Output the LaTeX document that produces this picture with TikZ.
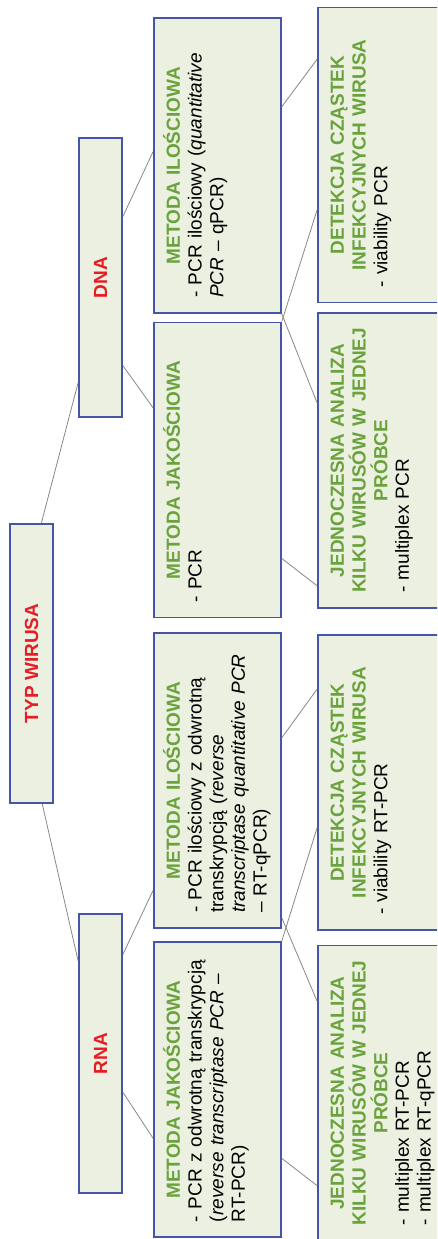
\documentclass[tikz,border=0pt]{standalone}
\usepackage{fontspec}
\setmainfont{Liberation Sans}
\usetikzlibrary{calc}

\definecolor{boxfill}{RGB}{235,240,225}
\definecolor{boxline}{RGB}{70,85,165}
\definecolor{headgreen}{RGB}{106,162,60}
\definecolor{headred}{RGB}{228,30,36}
\definecolor{linkgray}{RGB}{135,135,135}

\newcommand{\boxhead}[1]{{\centering\color{headgreen}\bfseries #1\par}}

\begin{document}
\begin{tikzpicture}[
        x=1pt, y=1pt, rotate=90, transform shape,
        box/.style={rectangle, draw=boxline, fill=boxfill, line width=1.8pt},
        kind/.style={box, minimum width=279pt, minimum height=43pt, inner sep=0pt, text=headred, font=\fontsize{19}{21.7}\selectfont\bfseries},
        method/.style={box, anchor=north, inner xsep=15pt, inner ysep=0pt, text width=265pt, align=left, text height=26pt, text depth=101pt, font=\fontsize{19}{21.7}\selectfont},
        detail/.style={method, text depth=220pt},
        link/.style={draw=linkgray, line width=0.8pt},
        ]

        \useasboundingbox (0,0) rectangle (1239,437);
        \clip (0,0) rectangle (1239,437);

        % Nodes
        \node[kind] (typ) at (575.5,405.5) {TYP WIRUSA};
        \node[kind] (dna) at (961.5,336.5) {DNA};
        \node[kind] (rna) at (185.5,336.5) {RNA};

        \node[method] (mjRNA) at (149.5,284) {\boxhead{METODA JAKOŚCIOWA}- PCR z odwrotną transkrypcją\\ (\textit{reverse transcriptase PCR} –\\ RT-PCR)};
        \node[method] (miRNA) at (458.5,284) {\boxhead{METODA ILOŚCIOWA}- PCR ilościowy z odwrotną\\ transkrypcją (\textit{reverse}\\ \textit{transcriptase quantitative PCR}\\ – RT-qPCR)};
        \node[method] (mjDNA) at (769,284) {\boxhead{METODA JAKOŚCIOWA}- PCR};
        \node[method] (miDNA) at (1073.5,284) {\boxhead{METODA ILOŚCIOWA}- PCR ilościowy (\textit{quantitative}\\ \textit{PCR} – qPCR)};

        \node[detail] (jednRNA) at (146,120) {\boxhead{JEDNOCZESNA ANALIZA\\ KILKU WIRUSÓW W JEDNEJ\\ PRÓBCE}- multiplex RT-PCR\\ - multiplex RT-qPCR};
        \node[detail] (detRNA) at (456.5,120) {\boxhead{DETEKCJA CZĄSTEK\\ INFEKCYJNYCH WIRUSA}- viability RT-PCR};
        \node[detail] (jednDNA) at (778.5,120) {\boxhead{JEDNOCZESNA ANALIZA\\ KILKU WIRUSÓW W JEDNEJ\\ PRÓBCE}- multiplex PCR};
        \node[detail] (detDNA) at (1084,120) {\boxhead{DETEKCJA CZĄSTEK\\ INFEKCYJNYCH WIRUSA}- viability PCR};

        % Connections
        \draw[link] ($(typ.south east)!0.28!(typ.north east)$) -- ($(dna.north west)!0.125!(dna.north east)$);
        \draw[link] ($(typ.south west)!0.26!(typ.north west)$) -- ($(rna.north west)!0.83!(rna.north east)$);
        \draw[link] ($(dna.south west)!0.717!(dna.south east)$) -- ($(miDNA.north west)!0.546!(miDNA.north east)$);
        \draw[link] ($(dna.south west)!0.186!(dna.south east)$) -- ($(mjDNA.north west)!0.71!(mjDNA.north east)$);
        \draw[link] ($(rna.south west)!0.853!(rna.south east)$) -- ($(miRNA.north west)!0.129!(miRNA.north east)$);
        \draw[link] ($(rna.south west)!0.362!(rna.south east)$) -- ($(mjRNA.north west)!0.336!(mjRNA.north east)$);
        \draw[link] ($(miDNA.south west)!0.698!(miDNA.south east)$) -- ($(detDNA.north west)!0.822!(detDNA.north east)$);
        \draw[link] (miDNA.south west) -- ($(jednDNA.north west)!0.695!(jednDNA.north east)$);
        \draw[link] (mjDNA.south east) -- ($(detDNA.north west)!0.314!(detDNA.north east)$);
        \draw[link] ($(mjDNA.south west)!0.202!(mjDNA.south east)$) -- ($(jednDNA.north west)!0.078!(jednDNA.north east)$);
        \draw[link] ($(miRNA.south west)!0.644!(miRNA.south east)$) -- ($(detRNA.north west)!0.814!(detRNA.north east)$);
        \draw[link] ($(miRNA.south west)!0.037!(miRNA.south east)$) -- ($(jednRNA.north west)!0.81!(jednRNA.north east)$);
        \draw[link] (mjRNA.south east) -- ($(detRNA.north west)!0.346!(detRNA.north east)$);
        \draw[link] ($(mjRNA.south west)!0.268!(mjRNA.south east)$) -- ($(jednRNA.north west)!0.188!(jednRNA.north east)$);

\end{tikzpicture}
\end{document}
